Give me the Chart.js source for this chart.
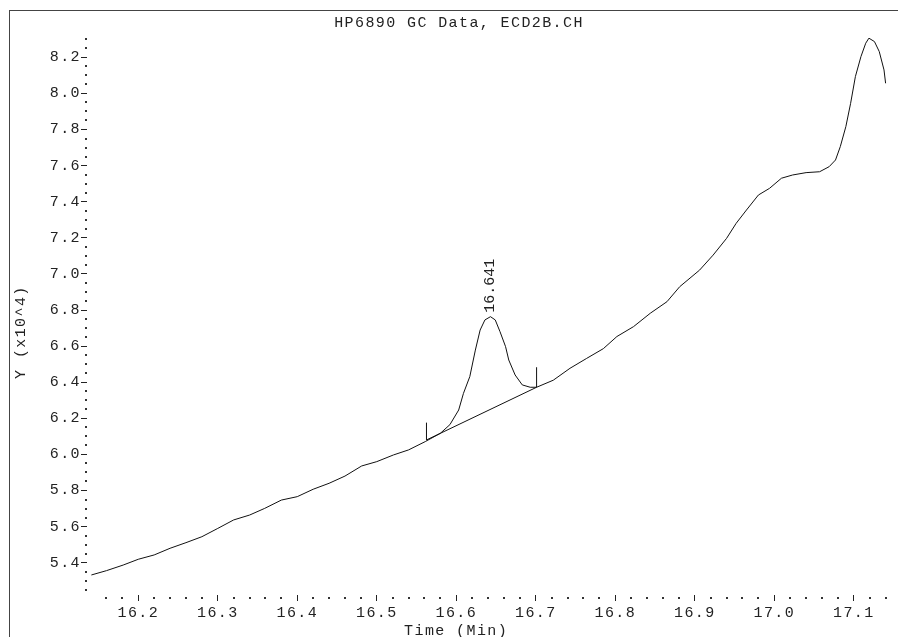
<!DOCTYPE html>
<html>
<head>
<meta charset="utf-8">
<script src="https://cdn.jsdelivr.net/npm/chart.js@4"></script>
<style>
  html, body { margin: 0; padding: 0; background: #fff; overflow: hidden; }
  #frame { position: absolute; left: 9px; top: 10px; border-left: 1px solid #444; border-top: 1px solid #444; }
  canvas { display: block; }
</style>
</head>
<body>
<div id="frame"><canvas id="chart" width="888" height="626"></canvas></div>
<script>
// retention time (min) and detector signal (x10^4)
const times = [16.141, 16.160, 16.181, 16.200, 16.220, 16.240, 16.260, 16.280, 16.300, 16.320,
    16.340, 16.359, 16.380, 16.400, 16.420, 16.440, 16.460, 16.481, 16.500, 16.521,
    16.540, 16.561, 16.580, 16.592, 16.603, 16.609, 16.617, 16.624, 16.630, 16.636,
    16.643, 16.649, 16.655, 16.662, 16.666, 16.674, 16.683, 16.693, 16.701, 16.722,
    16.743, 16.764, 16.785, 16.802, 16.823, 16.844, 16.865, 16.881, 16.906, 16.923,
    16.940, 16.952, 16.965, 16.980, 16.994, 17.009, 17.023, 17.040, 17.057, 17.069,
    17.077, 17.083, 17.090, 17.096, 17.102, 17.109, 17.115, 17.119, 17.126, 17.132,
    17.138, 17.140];
const signal = [5.332, 5.356, 5.387, 5.419, 5.443, 5.480, 5.511, 5.544, 5.590, 5.637,
    5.664, 5.701, 5.747, 5.766, 5.807, 5.840, 5.880, 5.936, 5.960, 5.997,
    6.025, 6.071, 6.117, 6.165, 6.246, 6.338, 6.431, 6.578, 6.689, 6.745,
    6.763, 6.745, 6.680, 6.597, 6.523, 6.440, 6.385, 6.372, 6.372, 6.411,
    6.477, 6.532, 6.586, 6.653, 6.708, 6.782, 6.846, 6.929, 7.021, 7.104,
    7.197, 7.280, 7.354, 7.437, 7.474, 7.530, 7.548, 7.561, 7.566, 7.594,
    7.631, 7.705, 7.816, 7.945, 8.093, 8.204, 8.278, 8.306, 8.287, 8.232,
    8.130, 8.056];

// integration baseline and its start/end markers
const baselineTimes = [16.5625, 16.701];
const baselineValues = [6.080, 6.372];
const markerTops = [6.176, 6.483];

const peakTimes = [16.641];
const peakHeights = [6.763];

const xMajorTicks = [16.2, 16.3, 16.4, 16.5, 16.6, 16.7, 16.8, 16.9, 17.0, 17.1];
const yMajorTicks = [5.4, 5.6, 5.8, 6.0, 6.2, 6.4, 6.6, 6.8, 7.0, 7.2, 7.4, 7.6, 7.8, 8.0, 8.2];
const xMinorRange = [16.16, 17.14, 0.02];
const yMinorRange = [5.25, 8.30, 0.05];

const FONT = { family: '"Liberation Mono", monospace', size: 15, weight: 'normal' };
const INK = '#222';

function tickList([from, to, step], majors) {
    const list = [];
    const n = Math.round((to - from) / step);
    for (let i = 0; i <= n; i++) {
        const value = Math.round((from + i * step) * 1000) / 1000;
        list.push({ value, major: majors.some(m => Math.abs(m - value) < 1e-6) });
    }
    return list;
}

const spacing = {
    id: 'spacing',
    beforeDraw(chart) { chart.ctx.letterSpacing = '1.4px'; }
};

const minorDots = {
    id: 'minorDots',
    afterDraw(chart) {
        const { ctx, chartArea, scales } = chart;
        ctx.save();
        ctx.fillStyle = '#333';
        for (const t of scales.x.ticks) {
            if (!t.major) ctx.fillRect(Math.round(scales.x.getPixelForValue(t.value)) - 1, chartArea.bottom + 2, 2, 2);
        }
        for (const t of scales.y.ticks) {
            if (!t.major) ctx.fillRect(chartArea.left - 2, Math.round(scales.y.getPixelForValue(t.value)) - 1, 2, 2);
        }
        ctx.restore();
    }
};

const peakLabels = {
    id: 'peakLabels',
    afterDatasetsDraw(chart) {
        const { ctx, scales } = chart;
        ctx.save();
        ctx.letterSpacing = '0px';
        ctx.font = `${FONT.size}px ${FONT.family}`;
        ctx.fillStyle = INK;
        ctx.textAlign = 'left';
        ctx.textBaseline = 'middle';
        peakTimes.forEach((t, i) => {
            ctx.save();
            ctx.translate(scales.x.getPixelForValue(t) + 1, scales.y.getPixelForValue(peakHeights[i]) - 4);
            ctx.rotate(-Math.PI / 2);
            ctx.fillText(t.toFixed(3), 0, 0);
            ctx.restore();
        });
        ctx.restore();
    }
};

const thin = { borderColor: '#111', borderWidth: 1, pointRadius: 0, tension: 0, fill: false };

const markers = baselineTimes.map((t, i) => ({
    ...thin,
    data: [{ x: t, y: baselineValues[i] }, { x: t, y: markerTops[i] }]
}));

new Chart(document.getElementById('chart'), {
    type: 'line',
    data: {
        datasets: [
            { ...thin, data: times.map((t, i) => ({ x: t, y: signal[i] })) },
            { ...thin, data: baselineTimes.map((t, i) => ({ x: t, y: baselineValues[i] })) },
            ...markers
        ]
    },
    options: {
        responsive: false,
        animation: false,
        events: [],
        layout: { padding: { left: 10, right: 0, top: 0, bottom: 0 } },
        plugins: {
            legend: { display: false },
            tooltip: { enabled: false },
            title: {
                display: true,
                text: 'HP6890 GC Data, ECD2B.CH',
                color: INK,
                font: FONT,
                padding: { top: 3, bottom: 6 }
            }
        },
        scales: {
            x: {
                type: 'linear',
                min: 16.1355,
                max: 17.1556,
                afterBuildTicks: axis => { axis.ticks = tickList(xMinorRange, xMajorTicks); },
                afterFit: axis => { axis.height = 42; },
                border: { display: false },
                grid: {
                    drawOnChartArea: false,
                    tickLength: 6,
                    tickColor: c => (c.tick && c.tick.major ? INK : 'rgba(0,0,0,0)')
                },
                ticks: {
                    autoSkip: false,
                    maxRotation: 0,
                    padding: 3,
                    color: INK,
                    font: FONT,
                    callback: (v, i, ticks) => (ticks[i].major ? v.toFixed(1) : '')
                },
                title: {
                    display: true,
                    text: 'Time (Min)       ',
                    color: INK,
                    font: FONT,
                    padding: { top: 0, bottom: -3 }
                }
            },
            y: {
                min: 5.2211,
                max: 8.3069,
                afterBuildTicks: axis => { axis.ticks = tickList(yMinorRange, yMajorTicks); },
                afterFit: axis => { axis.width = 67; },
                border: { display: false },
                grid: {
                    drawOnChartArea: false,
                    tickLength: 6,
                    tickColor: c => (c.tick && c.tick.major ? INK : 'rgba(0,0,0,0)')
                },
                ticks: {
                    autoSkip: false,
                    padding: 0,
                    color: INK,
                    font: FONT,
                    callback: (v, i, ticks) => (ticks[i].major ? v.toFixed(1) : '')
                },
                title: {
                    display: true,
                    text: 'Y (x10^4)   ',
                    color: INK,
                    font: FONT,
                    padding: { top: -8, bottom: 0 }
                }
            }
        }
    },
    plugins: [spacing, minorDots, peakLabels]
});
</script>
</body>
</html>
